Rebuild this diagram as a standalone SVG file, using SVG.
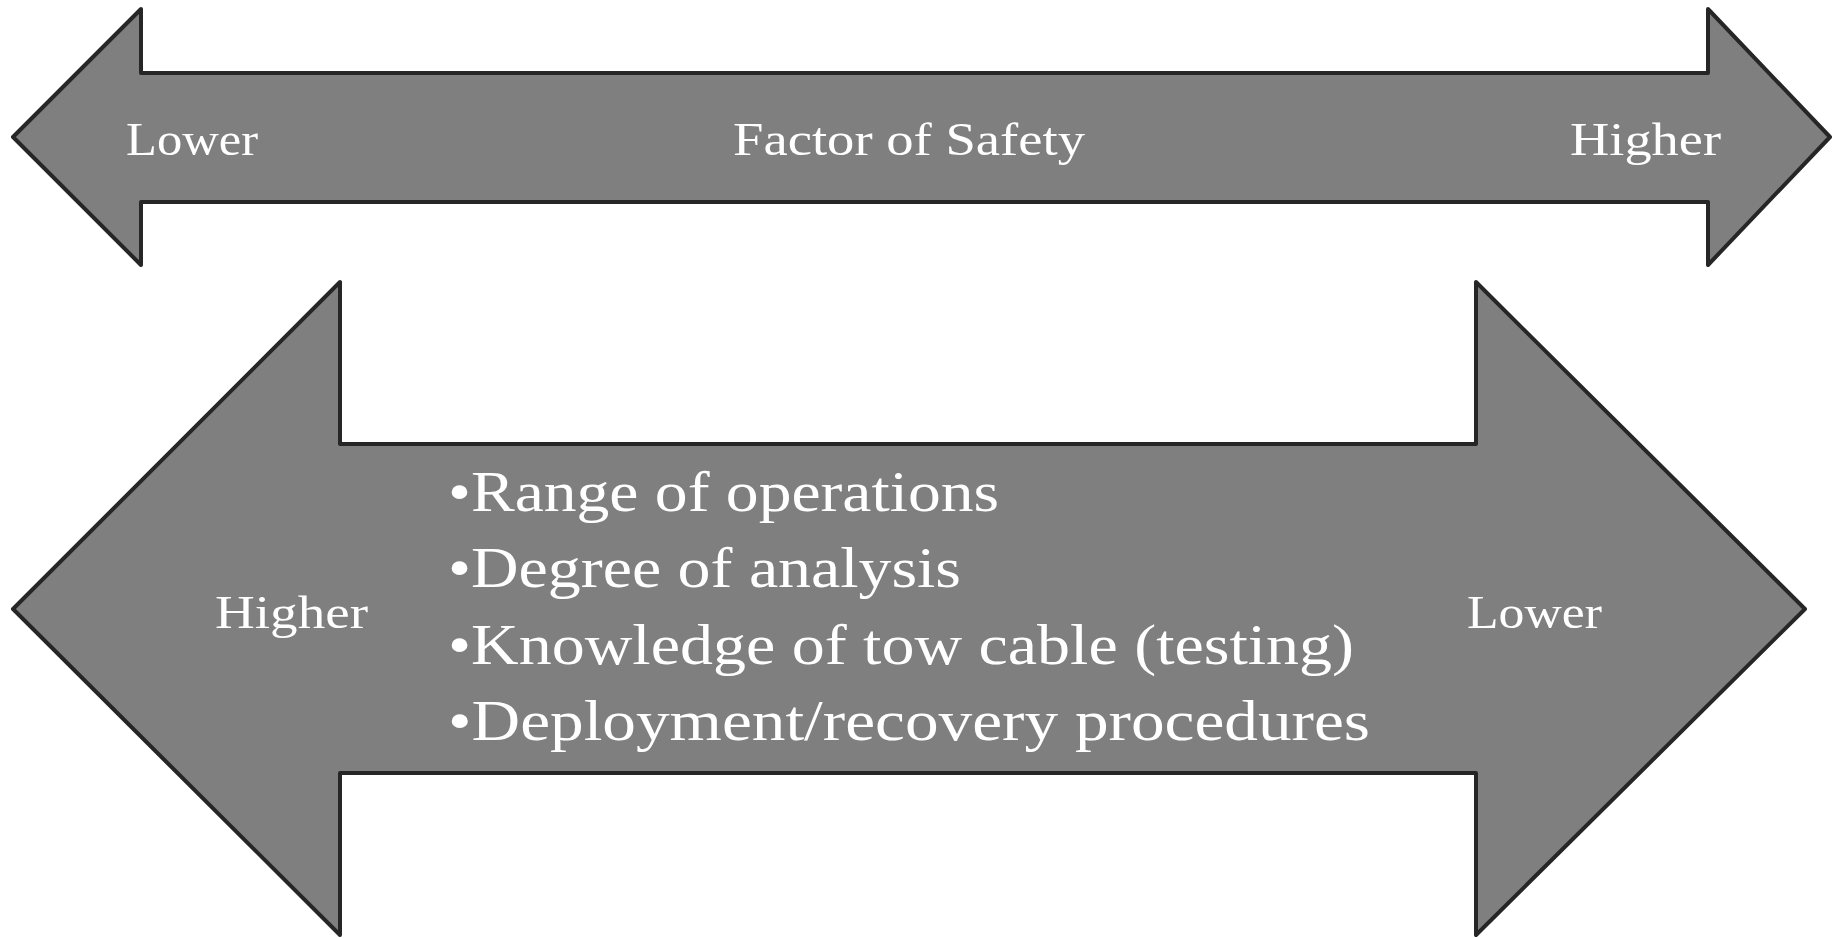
<svg xmlns="http://www.w3.org/2000/svg" width="1833" height="938" viewBox="0 0 1833 938">
<style>
.arrow{fill:#7f7f7f;stroke:#262626;stroke-width:4;stroke-linejoin:round}
.t{fill:#ffffff;font-family:"Liberation Serif","DejaVu Serif",serif}
.lbl{font-size:47px}
.blt{font-size:56px}
</style>
<rect width="1833" height="938" fill="#ffffff"/>
<g id="factor-arrow">
<polygon class="arrow" points="13,137 141,9 141,73 1708,73 1708,9 1830,137 1708,265 1708,202 141,202 141,265"/>
<text class="t lbl" x="126" y="155" textLength="132" lengthAdjust="spacingAndGlyphs">Lower</text>
<text class="t lbl" x="733" y="155" textLength="352" lengthAdjust="spacingAndGlyphs">Factor of Safety</text>
<text class="t lbl" x="1570" y="155" textLength="151" lengthAdjust="spacingAndGlyphs">Higher</text>
</g>
<g id="conditions-arrow">
<polygon class="arrow" points="13,609 340,282 340,444 1476,444 1476,282 1805,609 1476,935 1476,773 340,773 340,935"/>
<text class="t lbl" x="215" y="628" textLength="153" lengthAdjust="spacingAndGlyphs">Higher</text>
<text class="t lbl" x="1467" y="628" textLength="135" lengthAdjust="spacingAndGlyphs">Lower</text>
<text class="t blt" x="448" y="511" textLength="551" lengthAdjust="spacingAndGlyphs">•Range of operations</text>
<text class="t blt" x="448" y="587" textLength="513" lengthAdjust="spacingAndGlyphs">•Degree of analysis</text>
<text class="t blt" x="448" y="664" textLength="906" lengthAdjust="spacingAndGlyphs">•Knowledge of tow cable (testing)</text>
<text class="t blt" x="448" y="740" textLength="922" lengthAdjust="spacingAndGlyphs">•Deployment/recovery procedures</text>
</g>
<g id="connectors"></g>
</svg>
